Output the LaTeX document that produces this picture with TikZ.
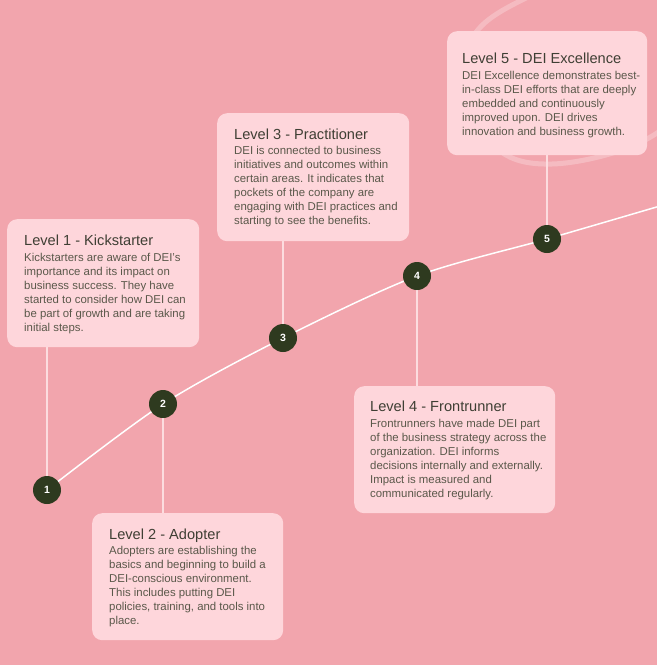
\documentclass[tikz,border=0pt]{standalone}
\usepackage{fontspec}
\setmainfont{Liberation Sans}
\definecolor{bgc}{HTML}{F2A5AD}
\definecolor{boxc}{HTML}{FED6DB}
\definecolor{dotc}{HTML}{2E3A1F}
\definecolor{titlec}{HTML}{3F3F34}
\definecolor{bodyc}{HTML}{5A584A}
\definecolor{connc}{HTML}{FCDCDF}
\pgfdeclarelayer{bgl}
\pgfdeclarelayer{back}
\pgfsetlayers{bgl,back,main}
\begin{document}
\begin{tikzpicture}[x=1pt,y=-1pt,
  box/.style={fill=boxc, rounded corners=10pt, inner sep=0pt, anchor=north west},
  dot/.style={circle, fill=dotc, minimum size=28pt, inner sep=0pt, text=white,
    font=\fontsize{10.5}{11}\selectfont\bfseries},
  ttl/.style={anchor=base west, inner sep=0pt, text=titlec, font=\fontsize{14.6}{16}\selectfont},
  bdy/.style={anchor=base west, inner sep=0pt, text=bodyc, align=left,
    font=\fontsize{11.4}{14.1}\selectfont},
  conn/.style={draw=connc, line width=1.5pt},
  mainline/.style={draw=white, line width=1.5pt},
  ring/.style={draw=white, draw opacity=0.25, line width=5pt}
]
\begin{pgfonlayer}{bgl}
\fill[bgc] (0,0) rectangle (657,665);
\end{pgfonlayer}
\useasboundingbox (0,0) rectangle (657,665);

% boxes
\node[box, minimum width=192pt, minimum height=128pt] (b1) at (7,219) {};
\node[box, minimum width=191pt, minimum height=127pt] (b2) at (92,513) {};
\node[box, minimum width=192pt, minimum height=128pt] (b3) at (217,113) {};
\node[box, minimum width=201pt, minimum height=127pt] (b4) at (354,386) {};
\node[box, minimum width=200pt, minimum height=124pt] (b5) at (447,31) {};

% titles
\node[ttl] (t1) at (24,245.5) {Level 1 - Kickstarter};
\node[ttl] (t2) at (109,539.5) {Level 2 - Adopter};
\node[ttl] (t3) at (234,139.5) {Level 3 - Practitioner};
\node[ttl] (t4) at (370,411.5) {Level 4 - Frontrunner};
\node[ttl] (t5) at (462,63.5) {Level 5 - DEI Excellence};

% bodies (anchor = baseline of last line)
\node[bdy] (d1) at (24,331.5) {Kickstarters are aware of DEI’s\\importance and its impact on\\business success. They have\\started to consider how DEI can\\be part of growth and are taking\\initial steps.};
\node[bdy] (d2) at (109,624.5) {Adopters are establishing the\\basics and beginning to build a\\DEI-conscious environment.\\This includes putting DEI\\policies, training, and tools into\\place.};
\node[bdy] (d3) at (234,224.5) {DEI is connected to business\\initiatives and outcomes within\\certain areas. It indicates that\\pockets of the company are\\engaging with DEI practices and\\starting to see the benefits.};
\node[bdy] (d4) at (370,497.5) {Frontrunners have made DEI part\\of the business strategy across the\\organization. DEI informs\\decisions internally and externally.\\Impact is measured and\\communicated regularly.};
\node[bdy] (d5) at (462,135.4) {DEI Excellence demonstrates best-\\in-class DEI efforts that are deeply\\embedded and continuously\\improved upon. DEI drives\\innovation and business growth.};

% dots
\node[dot] (c1) at (47,490) {1};
\node[dot] (c2) at (163,404) {2};
\node[dot] (c3) at (283,338) {3};
\node[dot] (c4) at (417,276) {4};
\node[dot] (c5) at (547,239) {5};
\coordinate (e) at (660,206);

\begin{pgfonlayer}{back}
\draw[ring] plot[smooth cycle, tension=0.6] coordinates {(522,0) (477,31) (459,80) (495,147) (552,164) (637,144) (688,100) (692,25) (640,-20) (578,-20)};
\draw[mainline] plot[smooth, tension=0.5] coordinates {(c1.center) (c2.center) (c3.center) (c4.center) (c5.center) (e)};
\draw[conn] (b1.south -| c1) -- (c1.center);
\draw[conn] (c2.center) -- (c2 |- b2.north);
\draw[conn] (b3.south -| c3) -- (c3.center);
\draw[conn] (c4.center) -- (c4 |- b4.north);
\draw[conn] (b5.south -| c5) -- (c5.center);
\end{pgfonlayer}
\end{tikzpicture}
\end{document}
